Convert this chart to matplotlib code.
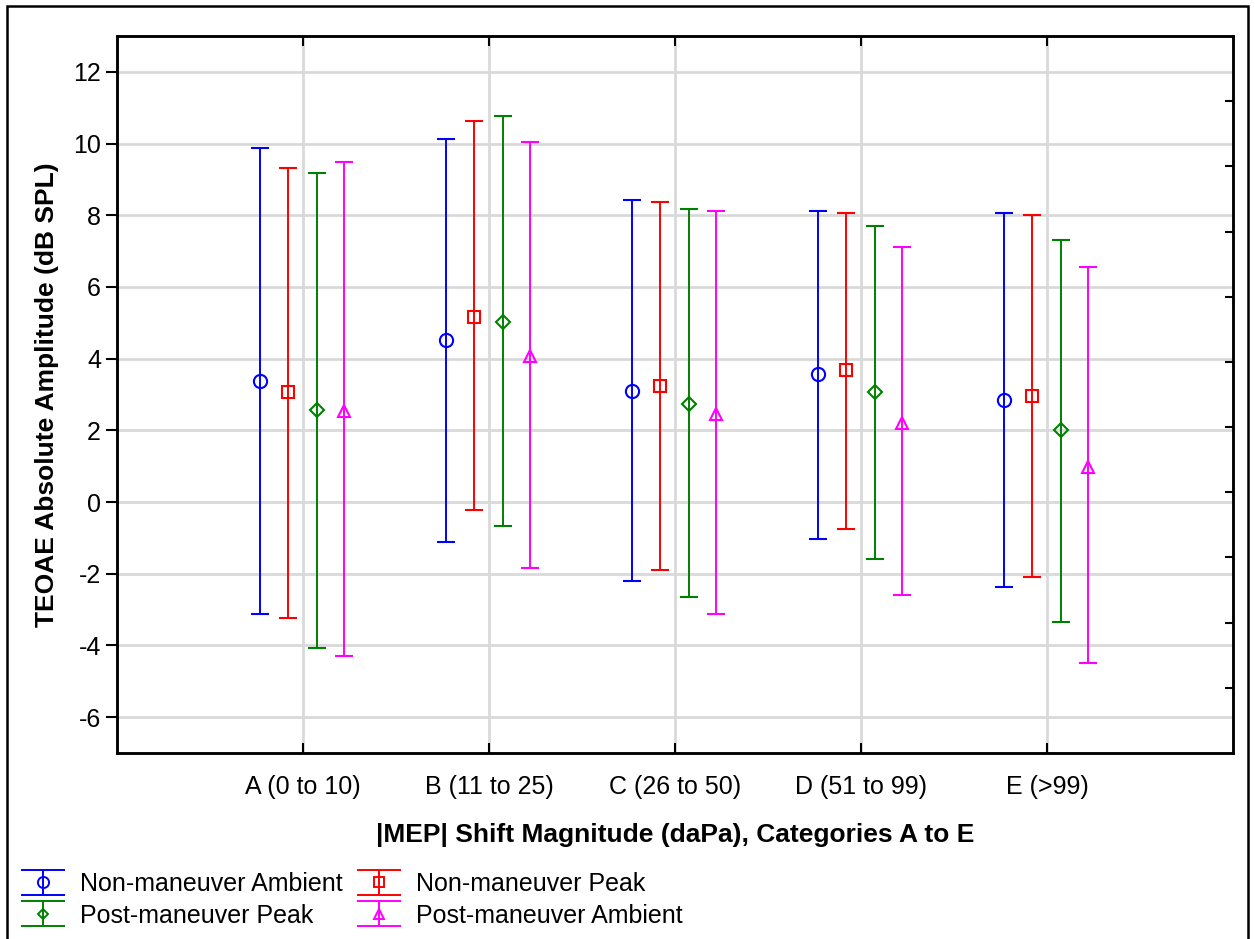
import numpy as np
import matplotlib
matplotlib.use("Agg")
import matplotlib.pyplot as plt
from matplotlib.patches import Rectangle
from matplotlib.legend_handler import HandlerErrorbar

plt.rcParams["font.family"] = ["Liberation Sans", "DejaVu Sans"]
plt.rcParams["axes.unicode_minus"] = False

categories = ["A (0 to 10)", "B (11 to 25)", "C (26 to 50)", "D (51 to 99)", "E (>99)"]
series_names = ["Non-maneuver Ambient", "Non-maneuver Peak", "Post-maneuver Peak", "Post-maneuver Ambient"]

# means and interval bounds, one list per series (A..E)
nm_ambient_mean = [3.38, 4.52, 3.10, 3.57, 2.84]
nm_ambient_upper = [9.87, 10.12, 8.43, 8.12, 8.06]
nm_ambient_lower = [-3.13, -1.11, -2.20, -1.03, -2.37]

nm_peak_mean = [3.07, 5.16, 3.24, 3.68, 2.95]
nm_peak_upper = [9.32, 10.62, 8.37, 8.06, 8.00]
nm_peak_lower = [-3.23, -0.22, -1.90, -0.75, -2.09]

pm_peak_mean = [2.57, 5.02, 2.73, 3.06, 2.00]
pm_peak_upper = [9.19, 10.77, 8.17, 7.70, 7.31]
pm_peak_lower = [-4.06, -0.67, -2.65, -1.60, -3.35]

pm_ambient_mean = [2.55, 4.07, 2.45, 2.20, 0.98]
pm_ambient_upper = [9.48, 10.04, 8.12, 7.10, 6.56]
pm_ambient_lower = [-4.29, -1.84, -3.13, -2.60, -4.50]

means = [nm_ambient_mean, nm_peak_mean, pm_peak_mean, pm_ambient_mean]
uppers = [nm_ambient_upper, nm_peak_upper, pm_peak_upper, pm_ambient_upper]
lowers = [nm_ambient_lower, nm_peak_lower, pm_peak_lower, pm_ambient_lower]

colors = ["#0000FF", "#FF0000", "#008000", "#FF00FF"]
markers = ["o", "s", "D", "^"]
msizes = [9.5, 9, 7, 9]
offsets = [-0.23, -0.08, 0.075, 0.22]

fig = plt.figure(figsize=(12.55, 9.39), dpi=100)
ax = fig.add_axes([0.0932, 0.1981, 0.8893, 0.7636])

x = np.arange(len(categories))
proxies = []
for i in range(4):
    m = np.array(means[i])
    lo = m - np.array(lowers[i])
    hi = np.array(uppers[i]) - m
    ax.errorbar(x + offsets[i], m, yerr=[lo, hi], fmt=markers[i], color=colors[i],
                mfc="none", mec=colors[i], ms=msizes[i], mew=1.5,
                elinewidth=1.4, capsize=6.8, capthick=1.4, zorder=3)
    # legend proxy with wider caps
    p = ax.errorbar([np.nan], [np.nan], yerr=[[1], [1]], fmt=markers[i], color=colors[i],
                    mfc="none", mec=colors[i], ms=msizes[i] - 1.5, mew=1.4,
                    elinewidth=1.4, capsize=15.5, capthick=1.4, label=series_names[i])
    proxies.append(p)

ax.set_xlim(-1, 5)
ax.set_ylim(-7, 13)
ax.set_xticks(x)
ax.set_xticklabels(categories, fontsize=18)
ax.set_yticks(np.arange(-6, 13, 2))
ax.tick_params(axis="y", labelsize=18, direction="out", length=8, width=1.5, right=False)
ax.tick_params(axis="x", direction="in", length=7, width=1.5, top=True, pad=16)
ax.grid(True, color="#D9D9D9", linewidth=2)
ax.set_axisbelow(True)
for s in ax.spines.values():
    s.set_linewidth(1.8)

ax2 = ax.twinx()
ax2.set_ylim(0, 11)
ax2.set_yticks(np.arange(1, 11))
ax2.tick_params(axis="y", direction="in", length=6, width=1.5, labelright=False)
for s in ax2.spines.values():
    s.set_linewidth(1.8)

ax.set_xlabel("|MEP| Shift Magnitude (daPa), Categories A to E", fontsize=19,
              fontweight="bold", labelpad=17)
ax.set_ylabel("TEOAE Absolute Amplitude (dB SPL)", fontsize=19, fontweight="bold",
              labelpad=10)

order = [0, 2, 1, 3]
leg = fig.legend([proxies[k] for k in order], [series_names[k] for k in order],
                 loc="upper left", bbox_to_anchor=(0.006, 0.082), borderaxespad=0,
                 ncol=2, frameon=False,
                 fontsize=18, handlelength=2.0, handletextpad=0.5, columnspacing=0.45,
                 labelspacing=0.3,
                 handler_map={type(proxies[0]): HandlerErrorbar(yerr_size=0.5)})

fig.patches.append(Rectangle((7 / 1255, -0.02), (1248 - 7) / 1255, 1.02 - 6 / 939,
                             transform=fig.transFigure, fill=False, lw=1.8,
                             edgecolor="black"))

fig.savefig("out.png", dpi=100)
